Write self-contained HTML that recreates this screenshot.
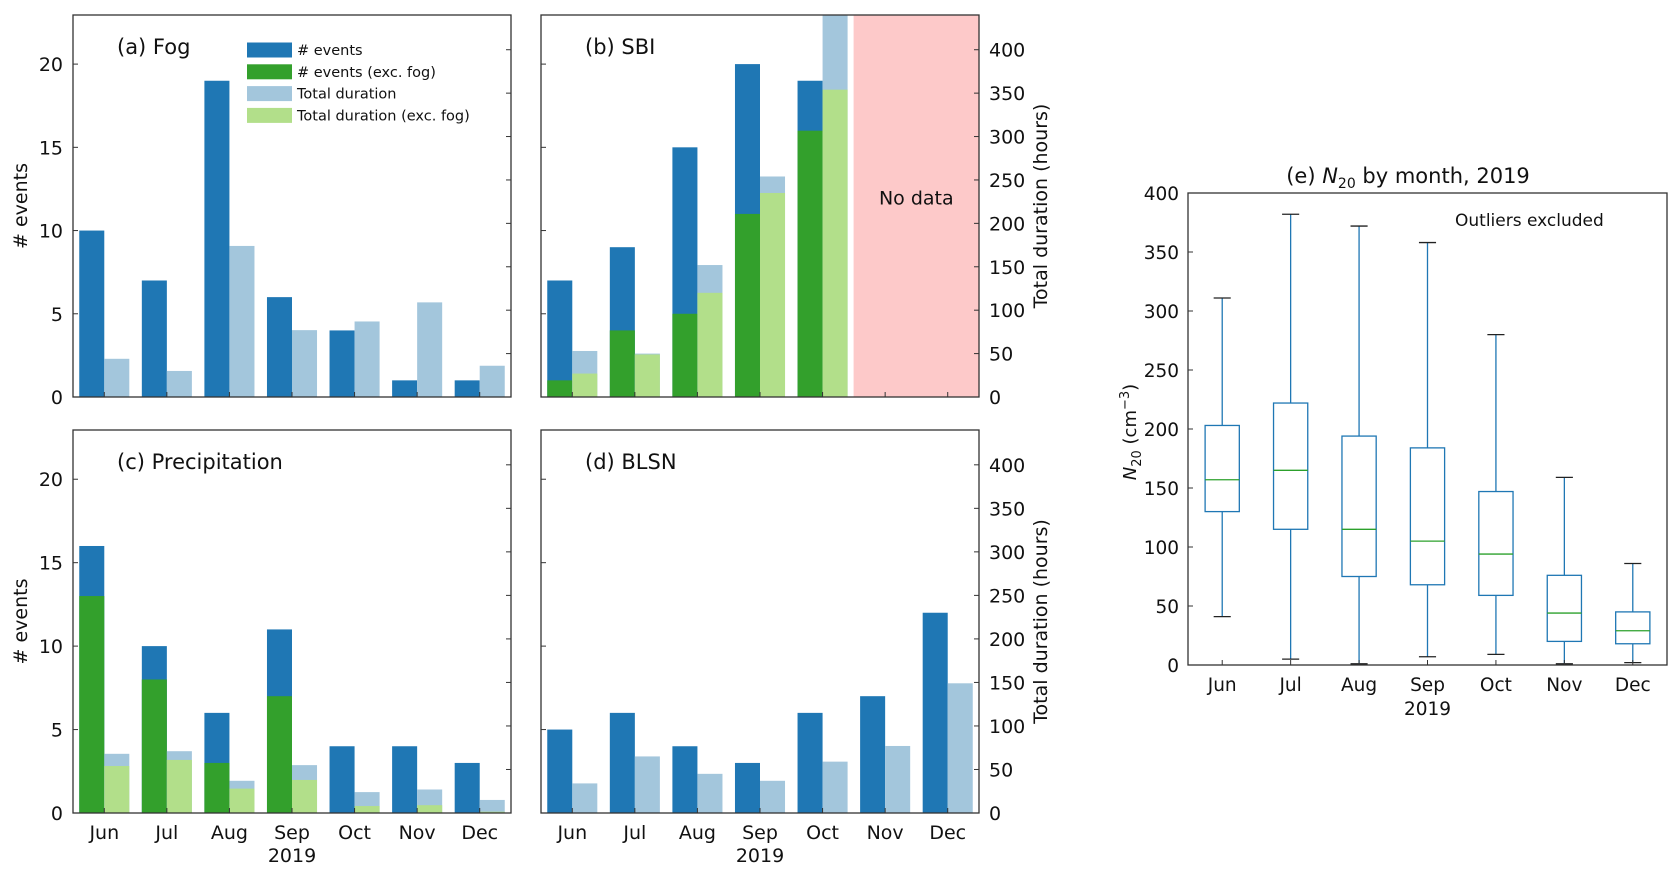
<!DOCTYPE html>
<html><head><meta charset="utf-8"><style>
html,body{margin:0;padding:0;background:#fff;}
svg{display:block;font-family:"DejaVu Sans","Liberation Sans",sans-serif;}
</style></head><body>
<svg id="fig" width="1679" height="876" viewBox="0 0 1679 876" xmlns="http://www.w3.org/2000/svg"></svg>
<script>
const months = ["Jun","Jul","Aug","Sep","Oct","Nov","Dec"];
// (a) Fog
const fogEvents = [10,7,19,6,4,1,1];
const fogDur = [44,30,174,77,87,109,36];
// (b) SBI (Jun-Oct only)
const sbiEvents = [7,9,15,20,19];
const sbiEventsExc = [1,4,5,11,16];
const sbiDur = [53,50,152,254,470];
const sbiDurExc = [27,49,120,235,354];
// (c) Precipitation
const preEvents = [16,10,6,11,4,4,3];
const preEventsExc = [13,8,3,7,0,0,0];
const preDur = [68,71,37,55,24,27,15];
const preDurExc = [54,61,28,38,8,9,1.5];
// (d) BLSN
const blsnEvents = [5,6,4,3,6,7,12];
const blsnDur = [34,65,45,37,59,77,149];
// (e) box plot stats
const boxLow = [41,5,1,7,9,1,2];
const boxQ1 = [130,115,75,68,59,20,18];
const boxMed = [157,165,115,105,94,44,29];
const boxQ3 = [203,222,194,184,147,76,45];
const boxHigh = [311,382,372,358,280,159,86];
const evTicks = [0,5,10,15,20];
const durTicks = [0,50,100,150,200,250,300,350,400];
const boxTicks = [0,50,100,150,200,250,300,350,400];

const NS="http://www.w3.org/2000/svg";
const svg=document.getElementById('fig');
function mk(tag,attrs,parent,text){const e=document.createElementNS(NS,tag);for(const k in attrs)e.setAttribute(k,attrs[k]);if(text!==undefined)e.textContent=text;(parent||svg).appendChild(e);return e;}

const C={dark:"#1f77b4",green:"#33a02c",light:"#a3c6dc",lgreen:"#b2df8a",axis:"#333"};

function panel(id,L,R,T,B,opt){
  const g=mk('g',{});
  
  
  const W=R-L, step=W/7;
  const evMax=22.95, durMax=440;
  const xc=i=>L+(i+0.5)*step;
  const yE=v=>B-(v/evMax)*(B-T);
  const yD=v=>B-(v/durMax)*(B-T);
  const clip=mk('clipPath',{id:'clip'+id},g);
  mk('rect',{x:L,y:T,width:W,height:B-T},clip);
  const pg=mk('g',{'clip-path':'url(#clip'+id+')'},g);
  const bw=step*0.4;
  if(opt.nodata){
    const x0=xc(4)+step*0.4+6;
    const r=mk('rect',{x:x0,y:T,width:R-x0,height:B-T,fill:"#fdc9c9"},pg);
    
    
    const t=mk('text',{x:(x0+R)/2,y:T+(B-T)*0.48+6,'font-size':19,'text-anchor':'middle',fill:'#111'},g,'No data');
    
    
  }
  function bar(x,top,color,name){
    const r=mk('rect',{x:x,y:top,width:bw,height:Math.max(0,B-top),fill:color},pg);
    
    
  }
  opt.ev.forEach((v,i)=>{
    bar(xc(i)-bw,yE(v),C.dark,'events-bar-'+months[i].toLowerCase());
    if(opt.evx) bar(xc(i)-bw,yE(opt.evx[i]),C.green,'events-exc-fog-bar-'+months[i].toLowerCase());
    bar(xc(i),yD(opt.dur[i]),C.light,'duration-bar-'+months[i].toLowerCase());
    if(opt.durx) bar(xc(i),yD(opt.durx[i]),C.lgreen,'duration-exc-fog-bar-'+months[i].toLowerCase());
  });
  const fr=mk('rect',{x:L,y:T,width:W,height:B-T,fill:'none',stroke:C.axis,'stroke-width':1.3},g);
  
  
  evTicks.forEach(v=>{
    mk('line',{x1:L,x2:L+5,y1:yE(v),y2:yE(v),stroke:C.axis,'stroke-width':1},g);
    if(opt.leftLabels){
      const t=mk('text',{x:L-10,y:yE(v)+7,'font-size':19,'text-anchor':'end',fill:'#111'},g,String(v));
      
      
    }
  });
  durTicks.forEach(v=>{
    mk('line',{x1:R-5,x2:R,y1:yD(v),y2:yD(v),stroke:C.axis,'stroke-width':1},g);
    if(opt.rightLabels){
      const t=mk('text',{x:R+10,y:yD(v)+7,'font-size':19,'text-anchor':'start',fill:'#111'},g,String(v));
      
      
    }
  });
  months.forEach((m,i)=>{
    mk('line',{x1:xc(i),x2:xc(i),y1:B,y2:B-5,stroke:C.axis,'stroke-width':1},g);
    if(opt.xLabels){
      const t=mk('text',{x:xc(i),y:B+26,'font-size':19,'text-anchor':'middle',fill:'#111'},g,m);
      
      
    }
  });
  if(opt.xLabels){
    const t=mk('text',{x:xc(3),y:B+49,'font-size':19,'text-anchor':'middle',fill:'#111'},g,'2019');
    
    
  }
  const tt=mk('text',{x:L+44,y:T+39,'font-size':21,fill:'#111'},g,opt.title);
  
  
  if(opt.leftLabels){
    const cy=(T+B)/2;
    const t=mk('text',{x:27,y:cy,'font-size':19,'text-anchor':'middle',fill:'#111',transform:'rotate(-90 27 '+cy+')'},g,'# events');
    
    
  }
  if(opt.rightLabels){
    const cy=(T+B)/2;
    const t=mk('text',{x:1047,y:cy,'font-size':19,'text-anchor':'middle',fill:'#111',transform:'rotate(-90 1047 '+cy+')'},g,'Total duration (hours)');
    
    
  }
  return g;
}

panel('a',73,511,15,397,{ev:fogEvents,dur:fogDur,leftLabels:true,title:'(a) Fog'});
panel('b',541,979,15,397,{ev:sbiEvents,evx:sbiEventsExc,dur:sbiDur,durx:sbiDurExc,rightLabels:true,nodata:true,title:'(b) SBI'});
panel('c',73,511,430,813,{ev:preEvents,evx:preEventsExc,dur:preDur,durx:preDurExc,leftLabels:true,xLabels:true,title:'(c) Precipitation'});
panel('d',541,979,430,813,{ev:blsnEvents,dur:blsnDur,rightLabels:true,xLabels:true,title:'(d) BLSN'});

// legend
const legItems=[["# events",C.dark],["# events (exc. fog)",C.green],["Total duration",C.light],["Total duration (exc. fog)",C.lgreen]];
const lg=mk('g',{});


legItems.forEach((it,i)=>{
  const y=50+i*21.8;
  const e=mk('g',{},lg);
  
  
  mk('rect',{x:247,y:y-7.5,width:45,height:15,fill:it[1]},e);
  mk('text',{x:297,y:y+5,'font-size':14.5,fill:'#111'},e,it[0]);
});

// (e) box plot
(function(){
  const L=1188,R=1667,T=193,B=665;
  const step=(R-L)/7;
  const xc=i=>L+(i+0.5)*step;
  const y=v=>B-(v/400)*(B-T);
  const g=mk('g',{});
  
  
  const bw=step*0.5, cw=step*0.25;
  months.forEach((m,i)=>{
    const b=mk('g',{},g);
    
    
    const x=xc(i);
    mk('line',{x1:x,x2:x,y1:y(boxLow[i]),y2:y(boxQ1[i]),stroke:C.dark,'stroke-width':1.3},b);
    mk('line',{x1:x,x2:x,y1:y(boxQ3[i]),y2:y(boxHigh[i]),stroke:C.dark,'stroke-width':1.3},b);
    mk('line',{x1:x-cw/2,x2:x+cw/2,y1:y(boxLow[i]),y2:y(boxLow[i]),stroke:'#222','stroke-width':1.3},b);
    mk('line',{x1:x-cw/2,x2:x+cw/2,y1:y(boxHigh[i]),y2:y(boxHigh[i]),stroke:'#222','stroke-width':1.3},b);
    mk('rect',{x:x-bw/2,y:y(boxQ3[i]),width:bw,height:y(boxQ1[i])-y(boxQ3[i]),fill:'none',stroke:C.dark,'stroke-width':1.3},b);
    mk('line',{x1:x-bw/2,x2:x+bw/2,y1:y(boxMed[i]),y2:y(boxMed[i]),stroke:'#2ca02c','stroke-width':1.3},b);
    mk('line',{x1:x,x2:x,y1:B,y2:B-5,stroke:C.axis,'stroke-width':1},g);
    const t=mk('text',{x:x,y:B+26,'font-size':18.5,'text-anchor':'middle',fill:'#111'},g,m);
    
    
  });
  const fr=mk('rect',{x:L,y:T,width:R-L,height:B-T,fill:'none',stroke:C.axis,'stroke-width':1.3},g);
  
  
  boxTicks.forEach(v=>{
    mk('line',{x1:L,x2:L+5,y1:y(v),y2:y(v),stroke:C.axis,'stroke-width':1},g);
    const t=mk('text',{x:L-9,y:y(v)+7,'font-size':18.5,'text-anchor':'end',fill:'#111'},g,String(v));
    
    
  });
  const yr=mk('text',{x:xc(3),y:B+50,'font-size':18.5,'text-anchor':'middle',fill:'#111'},g,'2019');
  
  
  const ti=mk('text',{x:1408,y:183,'font-size':21,'text-anchor':'middle',fill:'#111'},g);
  
  
  mk('tspan',{},ti,'(e)  ');
  mk('tspan',{'font-style':'italic'},ti,'N');
  mk('tspan',{'font-size':14,dy:5},ti,'20');
  mk('tspan',{dy:-5},ti,' by month, 2019');
  const ot=mk('text',{x:1455,y:226,'font-size':17,fill:'#111'},g,'Outliers excluded');
  
  
  const yl=mk('text',{x:1136,y:432,'font-size':18,'text-anchor':'middle',fill:'#111',transform:'rotate(-90 1136 432)'},g);
  
  
  mk('tspan',{'font-style':'italic'},yl,'N');
  mk('tspan',{'font-size':13,dy:5},yl,'20');
  mk('tspan',{dy:-5},yl,' (cm');
  mk('tspan',{'font-size':13,dy:-7},yl,'−3');
  mk('tspan',{dy:7},yl,')');
})();
</script>
</body></html>
